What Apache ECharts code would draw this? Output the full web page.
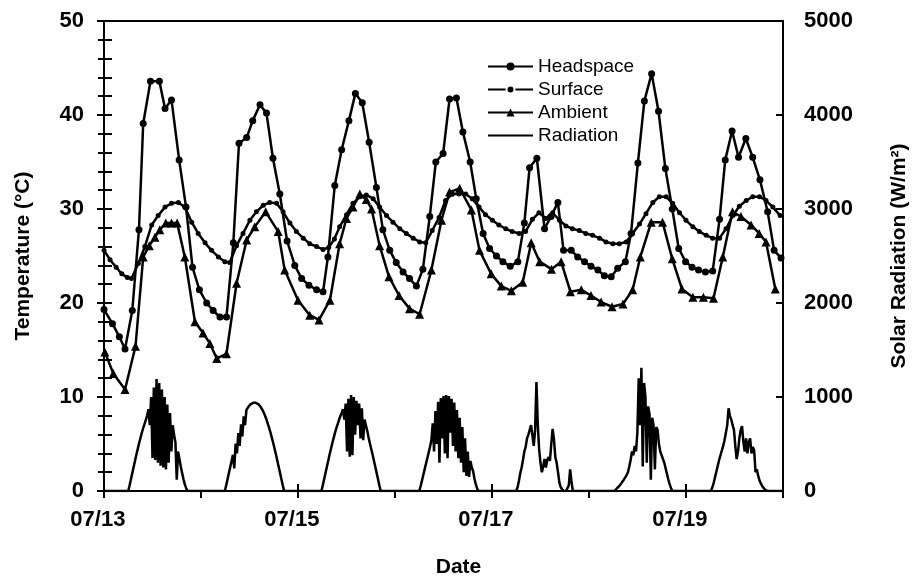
<!DOCTYPE html>
<html>
<head>
<meta charset="utf-8">
<script src="https://cdn.jsdelivr.net/npm/echarts@6/dist/echarts.min.js"></script>
<style>html,body{margin:0;padding:0;background:#fff}#chart{width:918px;height:586px}</style>
</head>
<body>
<div id="chart"></div>
<script>
// ---- data (x in hours since 07/13 00:00) ----
const seriesNames = ['Headspace', 'Surface', 'Ambient', 'Radiation'];
const dateLabels = ['07/13', '', '07/15', '', '07/17', '', '07/19', ''];

const headHours = [0,2.1,3.8,5.2,7.0,8.65,9.7,11.5,13.7,15.1,16.7,18.6,20.3,21.9,23.6,25.4,27.0,28.7,30.3,32.0,33.4,35.3,36.8,38.6,40.2,41.8,43.5,45.3,47.2,48.9,50.7,52.6,54.2,55.4,57.1,58.8,60.6,62.2,63.9,65.6,67.4,69.0,70.7,72.3,74.0,75.6,77.3,78.9,80.6,82.1,83.9,85.5,87.2,88.8,90.6,92.1,93.8,95.4,97.1,98.7,100.5,102.4,104.0,105.3,107.1,109.0,110.6,112.3,113.7,115.6,117.2,118.9,120.5,122.2,123.8,125.5,127.1,129.0,130.4,132.1,133.7,135.5,137.2,138.9,140.6,142.2,143.9,145.5,147.1,148.8,150.6,152.3,153.7,155.4,157.0,158.8,160.5,162.3,164.2,165.8,167.5];
const headTemp = [19.3,17.8,16.4,15.1,19.2,27.8,39.1,43.6,43.6,40.7,41.6,35.2,30.2,23.8,21.4,20.0,19.2,18.5,18.5,26.4,37.0,37.6,39.4,41.1,40.2,35.4,31.6,26.6,24.0,22.6,21.9,21.4,21.2,24.9,32.5,36.3,39.4,42.3,41.3,37.1,32.3,27.8,25.6,24.3,23.3,22.6,21.8,23.6,29.2,35.0,35.9,41.7,41.8,38.2,35.0,31.1,27.4,25.8,25.0,24.4,23.9,24.4,28.5,34.4,35.4,27.9,29.2,30.7,25.6,25.6,24.9,24.4,23.9,23.5,22.9,22.8,23.7,24.4,27.4,34.9,41.5,44.4,40.4,34.3,30.0,25.8,24.4,23.8,23.5,23.3,23.4,28.9,35.2,38.3,35.5,37.5,35.5,33.1,29.7,25.6,24.8];

const surfHours = [0,1.5,3.0,4.4,5.8,6.8,8.5,10.1,11.8,13.4,15.1,16.7,18.4,20.0,21.7,23.3,25.0,26.6,28.3,29.9,31.1,32.8,34.4,36.1,37.7,39.4,41.0,42.7,44.3,46.0,47.6,49.3,50.9,52.6,54.2,55.6,57.0,58.3,60.0,61.6,63.3,64.9,66.6,68.2,69.9,71.5,73.2,74.8,76.5,78.1,79.6,81.2,82.9,84.5,86.2,87.8,89.5,91.1,92.8,94.4,96.1,97.7,99.4,101.0,102.7,104.3,106.0,107.6,109.3,111.0,112.7,114.3,115.9,117.6,119.2,120.9,122.6,124.2,125.9,127.5,129.2,130.8,132.5,134.1,135.8,137.4,139.1,140.7,142.4,144.0,145.7,147.3,149.0,150.6,152.3,153.9,155.6,157.2,158.9,160.5,162.2,163.8,165.5,167.3];
const surfTemp = [25.6,24.6,23.8,23.1,22.7,22.6,24.2,26.0,28.3,29.3,30.2,30.6,30.7,30.2,28.6,27.4,26.4,25.6,24.9,24.4,24.3,26.1,27.4,28.8,29.7,30.4,30.7,30.6,29.7,28.5,27.6,26.9,26.3,26.0,25.7,25.9,26.8,28.1,29.4,30.6,31.3,31.5,31.1,30.2,29.3,28.6,27.9,27.4,26.9,26.5,26.4,27.7,29.1,30.9,31.6,31.6,31.6,31.1,30.2,29.4,28.8,28.3,27.9,27.6,27.4,27.6,28.9,29.6,29.0,29.6,28.8,28.2,27.9,27.7,27.4,27.2,26.9,26.5,26.3,26.3,26.5,27.4,28.4,29.5,30.7,31.3,31.3,30.6,29.6,28.8,28.1,27.6,27.2,26.9,26.9,27.9,29.3,30.3,30.9,31.3,31.3,30.9,30.2,29.3];

const ambHours = [0.2,2.3,5.2,7.8,9.7,11.2,12.6,13.8,15.3,16.7,18.1,20.0,22.5,24.5,26.2,27.9,30.3,32.8,35.3,37.3,40.0,43.1,44.7,48.0,50.9,53.2,55.9,58.3,60.0,61.6,63.3,64.9,66.2,68.2,70.5,73.0,75.6,78.1,81.0,83.5,85.5,88.0,90.9,92.9,95.8,98.3,100.8,103.6,105.7,107.8,110.7,113.1,115.4,118.1,120.5,123.0,125.7,128.4,130.8,132.7,135.4,138.2,140.6,143.0,145.7,148.3,150.8,153.1,155.5,157.6,160.1,162.1,163.8,166.1];
const ambTemp = [14.8,12.5,10.8,15.4,24.9,26.1,27.0,27.8,28.5,28.5,28.5,24.9,18.0,16.8,15.7,14.1,14.6,22.1,26.7,28.1,29.7,27.6,23.5,20.3,18.7,18.2,20.3,26.3,29.0,30.2,31.6,31.0,30.0,26.1,22.8,20.8,19.4,18.8,23.5,28.8,31.8,32.2,29.9,25.6,23.1,21.8,21.3,22.2,26.4,24.4,23.6,24.4,21.2,21.4,20.8,20.1,19.6,19.9,21.4,24.9,28.6,28.6,24.7,21.5,20.6,20.6,20.5,24.9,29.7,29.2,28.3,27.4,26.5,21.5];

// radiation, W/m2, one reading every 20 min from each day's start hour
const radStart = [6.0, 29.9, 53.8, 78.0, 102.0, 126.3, 150.2];
const rad0713 = [0,60,125,190,255,320,385,445,505,560,615,665,710,755,800,870,700,1000,350,1100,330,1190,300,1150,270,1080,250,1000,230,920,300,830,420,700,600,520,120,420,340,260,190,125,70,30,0];
const rad0714 = [0,60,125,190,255,320,385,240,505,400,615,480,710,580,795,700,860,885,905,922,933,938,940,938,933,922,905,885,860,830,795,755,710,665,615,560,505,445,385,320,255,190,125,60,0];
const rad0715 = [0,60,125,190,255,320,385,445,505,560,615,665,710,755,795,830,870,760,930,420,980,365,1020,380,1000,600,960,700,930,560,880,540,760,700,640,570,505,445,385,320,255,190,125,60,0];
const rad0716 = [0,50,110,170,230,290,350,410,470,540,720,420,850,500,950,300,990,560,1010,400,1020,350,1010,620,980,480,940,420,860,350,780,300,680,200,560,160,420,150,320,250,210,130,70,25,0];
const rad0717 = [0,40,110,190,250,330,420,470,560,600,650,700,720,480,650,1160,700,440,300,200,260,340,250,330,360,320,500,660,550,360,300,200,90,40,20,0,0,0,0,60,230,100,0,0,0];
const rad0718 = [0,15,30,45,60,80,100,120,145,170,200,260,330,420,380,480,420,620,1200,700,1310,260,1150,1000,300,900,820,120,780,700,230,680,650,500,420,380,400,300,240,180,120,70,30,0,0];
const rad0719 = [0,40,90,150,210,270,330,380,430,480,540,620,700,880,800,760,700,650,480,340,420,560,650,690,520,420,560,400,520,560,400,470,430,200,230,160,110,80,50,30,15,5,0,0,0];
const radDays = [rad0713, rad0714, rad0715, rad0716, rad0717, rad0718, rad0719];

// ---- build ----
const FONT = '"Liberation Sans", Arial, Helvetica, sans-serif';
const BLACK = '#000';
const pairs = (xs, ys) => xs.map((x, i) => [x, ys[i]]);
const radData = [[0, 0]];
radDays.forEach((vals, d) => vals.forEach((v, i) => radData.push([radStart[d] + i / 3, v])));
radData.push([168, 0]);

const tickStyle = { color: BLACK, width: 2 };
const lblStyle = { fontSize: 22, fontWeight: 'bold', color: BLACK, fontFamily: FONT };
const nameStyle = { fontSize: 21, fontWeight: 'bold', color: BLACK, fontFamily: FONT };

const chart = echarts.init(document.getElementById('chart'), null, { renderer: 'canvas' });
chart.setOption({
  animation: false,
  backgroundColor: '#fff',
  textStyle: { fontFamily: FONT },
  grid: { left: 104, right: 134, top: 21, bottom: 95, show: true, borderColor: BLACK, borderWidth: 2, backgroundColor: 'transparent' },
  legend: {
    orient: 'vertical', left: 482, top: 52, itemWidth: 45, itemHeight: 10, itemGap: 4,
    data: [
      { name: seriesNames[0] },
      { name: seriesNames[1], itemStyle: { borderWidth: 2, borderColor: '#fff' } },
      { name: seriesNames[2] },
      { name: seriesNames[3], itemStyle: { opacity: 0 } }
    ],
    textStyle: { fontSize: 19, color: BLACK, fontFamily: FONT }
  },
  xAxis: [
    {
      type: 'value', min: 0, max: 168, interval: 24, position: 'bottom',
      name: 'Date', nameLocation: 'middle', nameGap: 66,
      nameTextStyle: Object.assign({}, nameStyle, { padding: [0, 0, 0, 30] }),
      axisLine: { lineStyle: { color: BLACK, width: 2 } },
      axisTick: { show: true, inside: false, length: 7, lineStyle: tickStyle },
      axisLabel: Object.assign({}, lblStyle, { margin: 18,
        formatter: v => { const t = dateLabels[Math.round(v / 24)]; return t ? t + '  ' : ''; } }),
      splitLine: { show: false }
    },
    {
      type: 'value', min: 0, max: 168, interval: 48, position: 'bottom',
      axisLine: { show: false },
      axisTick: { show: true, inside: true, length: 7, lineStyle: tickStyle },
      axisLabel: { show: false }, splitLine: { show: false }
    }
  ],
  yAxis: [
    {
      type: 'value', position: 'left', min: 0, max: 50, interval: 10,
      name: 'Temperature (°C)', nameLocation: 'middle', nameRotate: 90, nameGap: 70, nameTextStyle: nameStyle,
      axisLine: { show: true, lineStyle: { color: BLACK, width: 2 } },
      axisTick: { show: true, inside: false, length: 7, lineStyle: tickStyle },
      minorTick: { show: true, splitNumber: 5, length: 6, lineStyle: tickStyle },
      axisLabel: Object.assign({}, lblStyle, { margin: 20, formatter: v => String(v) }),
      splitLine: { show: false }, minorSplitLine: { show: false }
    },
    {
      type: 'value', position: 'right', min: 0, max: 5000, interval: 1000,
      name: 'Solar Radiation (W/m²)', nameLocation: 'middle', nameRotate: 90, nameGap: 106, nameTextStyle: nameStyle,
      axisLine: { show: true, lineStyle: { color: BLACK, width: 2 } },
      axisTick: { show: false, inside: false, length: 7, lineStyle: tickStyle },
      minorTick: { show: true, splitNumber: 5, length: 8, lineStyle: tickStyle },
      axisLabel: Object.assign({}, lblStyle, { margin: 21, formatter: v => String(v) }),
      splitLine: { show: false }, minorSplitLine: { show: false }
    },
    {
      type: 'value', position: 'left', min: 0, max: 50, interval: 10,
      axisLine: { show: false },
      axisTick: { show: true, inside: true, length: 8, lineStyle: tickStyle },
      axisLabel: { show: false }, splitLine: { show: false }
    },
    {
      type: 'value', position: 'right', min: 0, max: 5000, interval: 1000,
      axisLine: { show: false },
      axisTick: { show: true, inside: true, length: 7, lineStyle: tickStyle },
      axisLabel: { show: false }, splitLine: { show: false }
    }
  ],
  series: [
    { name: seriesNames[3], type: 'line', xAxisIndex: 0, yAxisIndex: 1, data: radData,
      symbol: 'none', lineStyle: { color: BLACK, width: 2.5 }, itemStyle: { color: BLACK }, z: 2 },
    { name: seriesNames[2], type: 'line', xAxisIndex: 0, yAxisIndex: 0, data: pairs(ambHours, ambTemp),
      symbol: 'triangle', symbolSize: 9, showAllSymbol: true,
      lineStyle: { color: BLACK, width: 2.5 }, itemStyle: { color: BLACK }, z: 3 },
    { name: seriesNames[1], type: 'line', xAxisIndex: 0, yAxisIndex: 0, data: pairs(surfHours, surfTemp),
      symbol: 'circle', symbolSize: 5, showAllSymbol: true,
      lineStyle: { color: BLACK, width: 2.5 }, itemStyle: { color: BLACK }, z: 4 },
    { name: seriesNames[0], type: 'line', xAxisIndex: 0, yAxisIndex: 0, data: pairs(headHours, headTemp),
      symbol: 'circle', symbolSize: 7, showAllSymbol: true,
      lineStyle: { color: BLACK, width: 2.5 }, itemStyle: { color: BLACK }, z: 5 }
  ]
});
</script>
</body>
</html>
